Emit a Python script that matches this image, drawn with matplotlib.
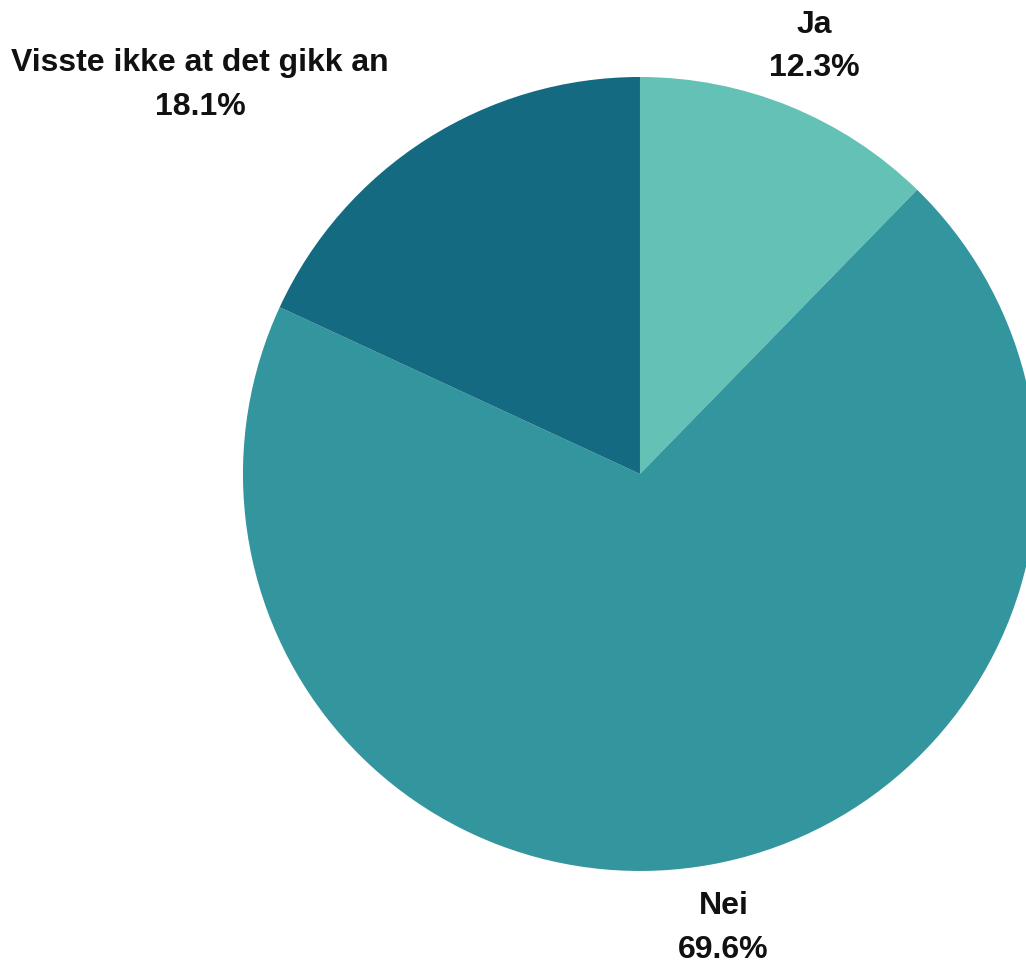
import numpy as np
import matplotlib.pyplot as plt

labels = ["Ja", "Nei", "Visste ikke at det gikk an"]
shares = [12.3, 69.6, 18.1]
colors = ["#63c1b5", "#33959d", "#136a81"]

plt.rcParams["font.family"] = ["Liberation Sans", "DejaVu Sans"]

fig = plt.figure(figsize=(10.26, 9.67), dpi=100)
# axes spans exactly the pie's bounding square
ax = fig.add_axes([0.2368, 0.0993, 0.7739, 0.8211])
ax.pie(shares, colors=colors, startangle=90, counterclock=False,
       radius=1, wedgeprops=dict(linewidth=0))
ax.set_xlim(-1, 1)
ax.set_ylim(-1, 1)
ax.set_aspect("equal")
ax.axis("off")

# label positions along the slice mid-angles
angles = 90 - (np.cumsum(shares) - np.array(shares) / 2) * 3.6
label_r = 1.163
for name, share, ang in zip(labels, shares, angles):
    x = label_r * np.cos(np.radians(ang))
    y = label_r * np.sin(np.radians(ang))
    if name.startswith("Visste"):
        x = -1.108  # pushed left so it clears the pie
    ax.text(x, y, f"{name}\n{share:.1f}%", ha="center", va="center",
            fontsize=23, fontweight="bold", color="#111111",
            linespacing=1.58, clip_on=False)

fig.savefig("out.png", dpi=100)
